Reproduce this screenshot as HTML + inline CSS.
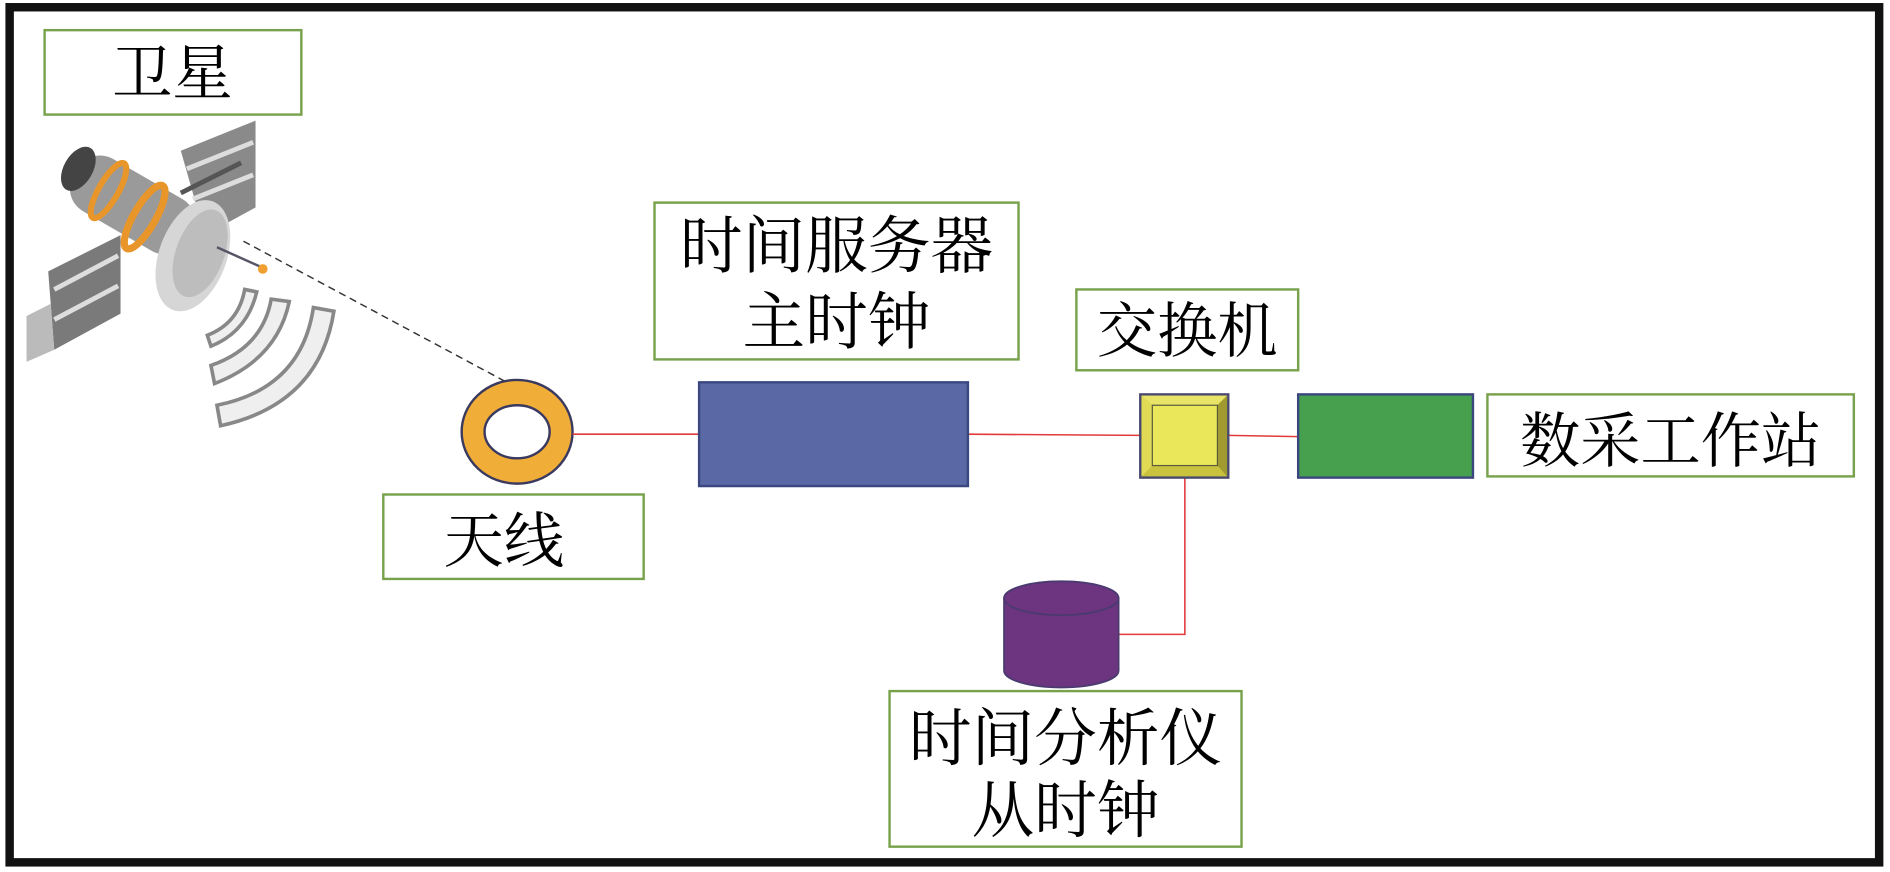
<!DOCTYPE html>
<html><head><meta charset="utf-8"><style>
html,body{margin:0;padding:0;background:#fff;}
svg{display:block;}
text{font-family:"Liberation Serif","Noto Serif CJK SC",serif;fill:#000;}
</style></head><body>
<svg width="1890" height="872" viewBox="0 0 1568 723" preserveAspectRatio="none">
<rect x="0" y="0" width="1568" height="723" fill="#fff"/>
<rect x="8" y="6" width="1551" height="709" fill="none" stroke="#111" stroke-width="7"/>

<!-- satellite label -->
<rect x="37" y="25" width="213" height="70" fill="#fff" stroke="#77a14a" stroke-width="2"/>
<text x="143" y="78" font-size="50" text-anchor="middle">卫星</text>

<!-- satellite drawing -->
<g>
  <polygon points="150,125 212,100 212,172 170,195" fill="#8a8a8a"/>
  <line x1="155" y1="140" x2="210" y2="118" stroke="#ddd" stroke-width="4"/>
  <line x1="160" y1="165" x2="210" y2="145" stroke="#ddd" stroke-width="4"/>
  <polygon points="40,225 100,195 100,260 45,290" fill="#7a7a7a"/>
  <polygon points="22,262 42,252 45,290 22,300" fill="#bbb"/>
  <line x1="45" y1="240" x2="98" y2="212" stroke="#ddd" stroke-width="4"/>
  <line x1="45" y1="265" x2="98" y2="237" stroke="#ddd" stroke-width="4"/>
  <line x1="150" y1="160" x2="200" y2="135" stroke="#555" stroke-width="4"/>
  <rect x="55" y="145" width="110" height="50" rx="22" fill="#9a9a9a" transform="rotate(30 110 170)"/>
  <ellipse cx="65" cy="140" rx="12" ry="20" fill="#444" transform="rotate(30 65 140)"/>
  <ellipse cx="90" cy="158" rx="8" ry="26" fill="none" stroke="#e8962a" stroke-width="5" transform="rotate(30 90 158)"/>
  <ellipse cx="120" cy="180" rx="9" ry="30" fill="none" stroke="#e8962a" stroke-width="6" transform="rotate(30 120 180)"/>
  <ellipse cx="160" cy="212" rx="28" ry="48" fill="#d6d6d6" transform="rotate(20 160 212)"/>
  <ellipse cx="166" cy="210" rx="20" ry="38" fill="#bdbdbd" transform="rotate(20 166 210)"/>
  <line x1="180" y1="205" x2="218" y2="222" stroke="#556" stroke-width="2"/>
  <circle cx="218" cy="223" r="4" fill="#f0a030"/>
</g>
<!-- waves -->
<g fill="#efefef" stroke="#888" stroke-width="3">
  <path d="M203,240 L213,242 Q205,275 175,287 L172,278 Q198,268 203,240 Z"/>
  <path d="M225,248 L240,250 Q230,298 178,318 L175,303 Q218,288 225,248 Z"/>
  <path d="M260,255 L277,258 Q265,335 183,353 L180,336 Q250,322 260,255 Z"/>
</g>
<line x1="202" y1="200" x2="428" y2="321" stroke="#333" stroke-width="1.2" stroke-dasharray="6,4"/>

<!-- antenna -->
<ellipse cx="429" cy="358" rx="46" ry="43" fill="#f0ad38" stroke="#3a3a60" stroke-width="2"/>
<ellipse cx="429" cy="358" rx="27" ry="22" fill="#fff" stroke="#3a3a60" stroke-width="2"/>
<rect x="318" y="410" width="216" height="70" fill="#fff" stroke="#77a14a" stroke-width="2"/>
<text x="418" y="466" font-size="50" text-anchor="middle">天线</text>

<!-- lines -->
<g stroke="#e23a3a" stroke-width="1.3" fill="none">
  <line x1="475" y1="360" x2="580" y2="360"/>
  <line x1="803" y1="360" x2="946" y2="361"/>
  <line x1="1019" y1="361" x2="1077" y2="362"/>
  <polyline points="983,396 983,526 928,526"/>
</g>

<!-- time server -->
<rect x="543" y="168" width="302" height="130" fill="#fff" stroke="#77a14a" stroke-width="2"/>
<text x="694" y="222" font-size="52" text-anchor="middle">时间服务器</text>
<text x="694" y="285" font-size="52" text-anchor="middle">主时钟</text>
<rect x="580" y="317" width="223" height="86" fill="#5a69a6" stroke="#3b4780" stroke-width="2"/>

<!-- switch -->
<rect x="893" y="240" width="184" height="67" fill="#fff" stroke="#77a14a" stroke-width="2"/>
<text x="985" y="292" font-size="50" text-anchor="middle">交换机</text>
<rect x="946" y="327" width="73" height="69" fill="#c8c23e" stroke="#4a4a70" stroke-width="2"/>
<polygon points="947,328 1018,328 1010,336 956,336" fill="#e8e468"/>
<polygon points="947,328 956,336 956,386 947,395" fill="#e0da55"/>
<polygon points="1018,328 1010,336 1010,386 1018,395" fill="#a09a30"/>
<rect x="956" y="336" width="54" height="50" fill="#ebe75a" stroke="#5a5a40" stroke-width="1"/>

<!-- workstation -->
<rect x="1077" y="327" width="145" height="69" fill="#46a04e" stroke="#3b4780" stroke-width="2"/>
<rect x="1234" y="327" width="304" height="68" fill="#fff" stroke="#77a14a" stroke-width="2"/>
<text x="1386" y="383" font-size="50" text-anchor="middle">数采工作站</text>

<!-- analyzer cylinder -->
<path d="M833,496 L833,556 A47.5,14 0 0 0 928,556 L928,496 Z" fill="#6d3480" stroke="#4a3a70" stroke-width="1.5"/>
<ellipse cx="880.5" cy="496" rx="47.5" ry="14" fill="#6d3480" stroke="#4a3a70" stroke-width="1.5"/>
<rect x="738" y="573" width="292" height="129" fill="#fff" stroke="#77a14a" stroke-width="2"/>
<text x="884" y="630" font-size="52" text-anchor="middle">时间分析仪</text>
<text x="884" y="690" font-size="52" text-anchor="middle">从时钟</text>
</svg>
</body></html>
